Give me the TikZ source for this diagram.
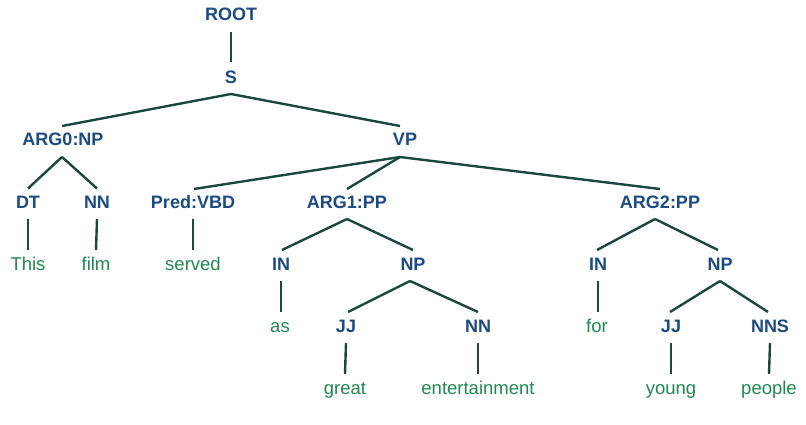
\documentclass[tikz,border=0pt]{standalone}
\usepackage{fontspec}
\setmainfont{Liberation Sans}
\definecolor{lblue}{HTML}{1B4A85}
\definecolor{wgreen}{HTML}{1F8A50}
\definecolor{edgec}{HTML}{1A4740}
\begin{document}
\begin{tikzpicture}[x=1pt,y=-1pt,
  cat/.style={font=\fontsize{18}{20}\selectfont\bfseries, text=lblue, inner sep=0pt, anchor=base},
  word/.style={font=\fontsize{18.5}{20}\selectfont, text=wgreen, inner sep=0pt, anchor=base},
  edge/.style={draw=edgec, line width=2.4pt}]
\useasboundingbox (0,0) rectangle (806,424);
\fill[white] (0,0) rectangle (806,424);
% nodes (positioned at baselines)
\node[cat] (root) at (231,20) {ROOT};
\node[cat] (s) at (231,83) {S};
\node[cat] (np0) at (63,145) {ARG0:NP};
\node[cat] (vp) at (405,145) {VP};
\node[cat] (dt) at (28,208) {DT};
\node[cat] (nn1) at (97,208) {NN};
\node[cat] (vbd) at (193,208) {Pred:VBD};
\node[cat] (pp1) at (347,208) {ARG1:PP};
\node[cat] (pp2) at (660,208) {ARG2:PP};
\node[word] (w1) at (28,270) {This};
\node[word] (w2) at (96,270) {film};
\node[word] (w3) at (193,270) {served};
\node[cat] (in1) at (281,270) {IN};
\node[cat] (np1) at (413,270) {NP};
\node[cat] (in2) at (598,270) {IN};
\node[cat] (np2) at (720,270) {NP};
\node[word] (w4) at (280,332) {as};
\node[cat] (jj1) at (346,332) {JJ};
\node[cat] (nn2) at (478,332) {NN};
\node[word] (w7) at (597,332) {for};
\node[cat] (jj2) at (671,332) {JJ};
\node[cat] (nns) at (770,332) {NNS};
\node[word] (w5) at (345,394) {great};
\node[word] (w6) at (478,394) {entertainment};
\node[word] (w8) at (671,394) {young};
\node[word] (w9) at (769,394) {people};
% edges
\path[edge] ([yshift=-12pt]root.base) -- ([yshift=21pt]s.base);
\path[edge] ([yshift=-11pt]s.base) -- ([xshift=-1pt,yshift=19pt]np0.base);
\path[edge] ([yshift=-11pt]s.base) -- ([xshift=-5pt,yshift=19pt]vp.base);
\path[edge] ([xshift=-1pt,yshift=-12pt]np0.base) -- ([yshift=19.5pt]dt.base);
\path[edge] ([xshift=-1pt,yshift=-12pt]np0.base) -- ([yshift=19.5pt]nn1.base);
\path[edge] ([xshift=-5pt,yshift=-12pt]vp.base) -- ([xshift=1pt,yshift=19pt]vbd.base);
\path[edge] ([xshift=-5pt,yshift=-12pt]vp.base) -- ([yshift=19pt]pp1.base);
\path[edge] ([xshift=-5pt,yshift=-12pt]vp.base) -- ([yshift=19pt]pp2.base);
\path[edge] ([yshift=-11pt]dt.base) -- ([yshift=20pt]w1.base);
\path[edge] ([yshift=-11pt]nn1.base) -- ([yshift=20pt]w2.base);
\path[edge] ([yshift=-11pt]vbd.base) -- ([yshift=20pt]w3.base);
\path[edge] ([yshift=-11pt]pp1.base) -- ([xshift=1pt,yshift=20pt]in1.base);
\path[edge] ([yshift=-11pt]pp1.base) -- ([yshift=20pt]np1.base);
\path[edge] ([xshift=-5pt,yshift=-11pt]pp2.base) -- ([xshift=-1pt,yshift=20pt]in2.base);
\path[edge] ([xshift=-5pt,yshift=-11pt]pp2.base) -- ([xshift=-2pt,yshift=20pt]np2.base);
\path[edge] ([yshift=-11pt]in1.base) -- ([xshift=1pt,yshift=20pt]w4.base);
\path[edge] ([xshift=-3pt,yshift=-11pt]np1.base) -- ([xshift=2pt,yshift=20pt]jj1.base);
\path[edge] ([xshift=-3pt,yshift=-11pt]np1.base) -- ([yshift=20pt]nn2.base);
\path[edge] ([yshift=-11pt]in2.base) -- ([xshift=1pt,yshift=20pt]w7.base);
\path[edge] ([yshift=-11pt]np2.base) -- ([xshift=-1pt,yshift=20pt]jj2.base);
\path[edge] ([yshift=-11pt]np2.base) -- ([xshift=-2pt,yshift=20pt]nns.base);
\path[edge] ([yshift=-11pt]jj1.base) -- ([yshift=20pt]w5.base);
\path[edge] ([yshift=-11pt]nn2.base) -- ([yshift=20pt]w6.base);
\path[edge] ([yshift=-11pt]jj2.base) -- ([yshift=20pt]w8.base);
\path[edge] ([yshift=-11pt]nns.base) -- ([yshift=20pt]w9.base);
\end{tikzpicture}
\end{document}
